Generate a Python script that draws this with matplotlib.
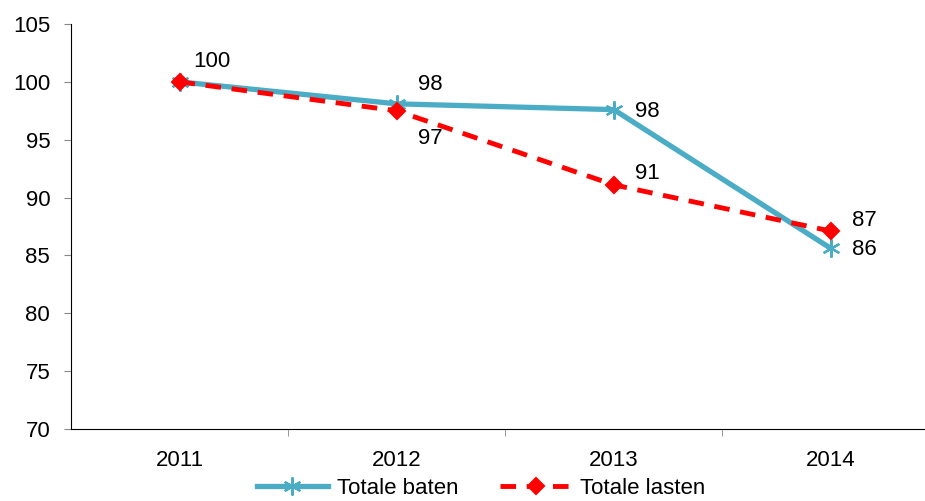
import numpy as np
import matplotlib.pyplot as plt
import matplotlib

plt.rcParams['font.family'] = ['Liberation Sans', 'DejaVu Sans']

years = ["2011", "2012", "2013", "2014"]
baten = [100, 98.1, 97.6, 85.6]
lasten = [100, 97.5, 91.1, 87.1]
baten_labels = ["100", "98", "98", "86"]
lasten_labels = ["", "97", "91", "87"]

blue = "#4bacc6"
red = "#ff0000"
font_size = 16

fig = plt.figure(figsize=(9.25, 5.01), dpi=100)
ax = fig.add_axes([71 / 925, 72 / 501, 868.5 / 925, 405 / 501])

x = np.arange(len(years))
l1, = ax.plot(x, baten, color=blue, lw=3.8, marker=(6, 2, 0), ms=13, mew=1.6,
              mec=blue, label="Totale baten", zorder=2)
l2, = ax.plot(x, lasten, color=red, lw=3.5, ls=(0, (3.2, 2.2)), marker="D", ms=8,
              mec=red, mew=1.5, label="Totale lasten", zorder=3)

# data labels
baten_off = [(10, 15), (15, 14), (15, -1), (15, -1)]
lasten_off = [(10, 15), (15, -20), (15, 8), (15, 8)]
for i in x:
    ax.annotate(baten_labels[i], (x[i], baten[i]), xytext=baten_off[i],
                textcoords="offset points", fontsize=font_size, va="center")
    if lasten_labels[i]:
        ax.annotate(lasten_labels[i], (x[i], lasten[i]), xytext=lasten_off[i],
                    textcoords="offset points", fontsize=font_size, va="center")

ax.set_xlim(-0.5, 3.5)
ax.set_ylim(70, 105)
ax.set_yticks(range(70, 106, 5))
ax.set_xticks(x)
ax.set_xticklabels(years)
ax.set_xticks(np.arange(0.5, 3, 1), minor=True)
ax.tick_params(axis='x', which='major', length=0, labelsize=font_size, pad=15)
ax.tick_params(axis='x', which='minor', length=5, color="#888888")
ax.tick_params(axis='y', length=5, color="#888888", labelsize=font_size, pad=10)

for s in ["top", "right"]:
    ax.spines[s].set_visible(False)
ax.spines["left"].set_linewidth(0.8)
ax.spines["bottom"].set_linewidth(0.8)

fig.legend(handles=[l1, l2], loc="lower center", bbox_to_anchor=(0.52, -0.035),
           ncol=2, frameon=False, fontsize=font_size, handlelength=3.2,
           columnspacing=1.9, handletextpad=0.4)

plt.savefig("out.png", dpi=100)
